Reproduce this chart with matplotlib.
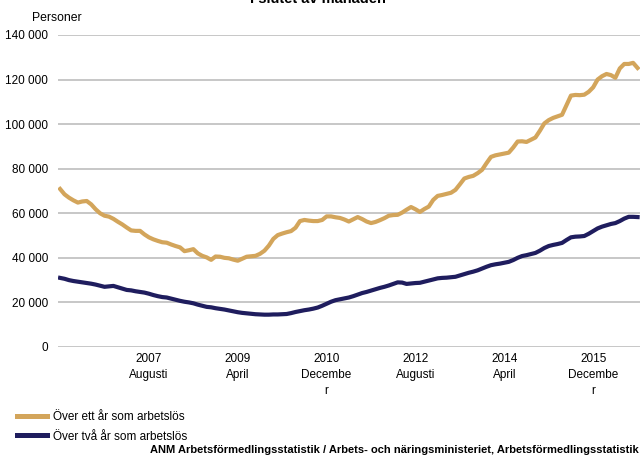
import matplotlib
matplotlib.use("Agg")
import matplotlib.pyplot as plt

plt.rcParams["font.family"] = ["Liberation Sans", "DejaVu Sans"]

# monthly values (thousands of persons), Dec 2005 .. Oct 2016
over_ett_ar = [
    70.9, 68.5, 67.0, 65.8, 64.8, 65.3, 65.5, 64.0, 61.8, 60.0,
    58.9, 58.5, 57.5, 56.2, 55.0, 53.6, 52.3, 52.1, 52.1, 50.5,
    49.2, 48.3, 47.6, 47.0, 46.8, 46.0, 45.3, 44.7, 43.0, 43.4,
    43.9, 42.0, 40.9, 40.2, 39.1, 40.6, 40.5, 40.0, 39.8, 39.2,
    38.7, 39.6, 40.5, 40.7, 40.9, 41.8, 43.2, 45.5, 48.5, 50.2,
    50.9, 51.5, 52.0, 53.5, 56.5, 57.0, 56.7, 56.5, 56.5, 57.0,
    58.6, 58.6, 58.2, 57.9, 57.2, 56.3, 57.3, 58.3, 57.4, 56.3,
    55.6, 56.1, 56.9, 57.8, 58.9, 59.2, 59.3, 60.3, 61.6, 62.8,
    61.8, 60.6, 61.9, 63.0, 66.0, 67.8, 68.2, 68.7, 69.2, 70.5,
    73.0, 75.6, 76.3, 76.8, 78.0, 79.5, 82.5, 85.3, 86.0, 86.4,
    86.8, 87.2, 89.5, 92.2, 92.3, 92.0, 93.0, 94.0, 97.0, 100.3,
    101.8, 102.8, 103.5, 104.2, 108.5, 112.8, 113.1, 113.0, 113.2, 114.5,
    116.5, 120.0, 121.5, 122.5, 122.0, 120.8, 125.0, 127.0, 127.0, 127.5,
    125.2,
]
over_tva_ar = [
    31.0, 30.6, 30.0, 29.6, 29.3, 29.0, 28.7, 28.4, 28.0, 27.5,
    27.0, 27.2, 27.4, 26.8, 26.2, 25.6, 25.4, 25.0, 24.7, 24.4,
    23.9, 23.3, 22.8, 22.4, 22.2, 21.7, 21.2, 20.7, 20.3, 20.0,
    19.6, 19.0, 18.5, 18.0, 17.8, 17.4, 17.1, 16.8, 16.4, 16.0,
    15.6, 15.3, 15.1, 14.9, 14.7, 14.6, 14.5, 14.5, 14.6, 14.6,
    14.7, 14.8, 15.2, 15.7, 16.1, 16.5, 16.8, 17.2, 17.7, 18.5,
    19.4, 20.3, 21.0, 21.4, 21.8, 22.2, 22.8, 23.5, 24.2, 24.7,
    25.3, 25.9, 26.5, 27.0, 27.6, 28.3, 29.0, 28.9, 28.3, 28.5,
    28.7, 28.8, 29.3, 29.8, 30.3, 30.8, 31.0, 31.1, 31.3, 31.5,
    32.1, 32.7, 33.3, 33.8, 34.4, 35.2, 36.0, 36.7, 37.1, 37.4,
    37.8, 38.2, 39.0, 40.0, 40.8, 41.2, 41.7, 42.2, 43.2, 44.4,
    45.3, 45.8, 46.2, 46.7, 48.0, 49.2, 49.5, 49.6, 49.8, 50.8,
    52.0, 53.2, 54.0, 54.6, 55.2, 55.6, 56.5, 57.6, 58.4, 58.4,
    58.3,
]

tick_pos = [20, 40, 60, 80, 100, 120]
tick_labels = ["2007\nAugusti", "2009\nApril", "2010\nDecembe\nr",
               "2012\nAugusti", "2014\nApril", "2015\nDecembe\nr"]
y_ticks = [0, 20000, 40000, 60000, 80000, 100000, 120000, 140000]

gold = "#D3A55B"
navy = "#1F1D5E"

fig = plt.figure(figsize=(6.43, 4.58), dpi=100)
ax = fig.add_axes([0.090, 0.2424, 0.905, 0.6812])

x = list(range(len(over_ett_ar)))
ax.plot(x, [v * 1000 for v in over_ett_ar], color=gold, lw=3.0,
        solid_joinstyle="round", label="Över ett år som arbetslös")
ax.plot(x, [v * 1000 for v in over_tva_ar], color=navy, lw=3.0,
        solid_joinstyle="round", label="Över två år som arbetslös")

ax.set_xlim(-0.5, len(x) - 0.5)
ax.set_ylim(0, 140000)
ax.set_yticks(y_ticks)
ax.set_yticklabels([f"{v:,}".replace(",", " ") for v in y_ticks])
ax.set_xticks(tick_pos)
ax.set_xticklabels(tick_labels, linespacing=1.45)
ax.tick_params(axis="both", length=0, labelsize=8.5, colors="black")
ax.tick_params(axis="y", pad=7)
ax.tick_params(axis="x", pad=4)
ax.grid(axis="y", color="#BEBEBE", lw=1.2)
ax.set_axisbelow(True)
for s in ax.spines.values():
    s.set_visible(False)

fig.text(0.049, 0.961, "Personer", fontsize=8.8, va="center", ha="left")
fig.text(0.495, 1 - 3 / 458, "I slutet av månaden", fontsize=10.5,
         fontweight="bold", ha="center", va="baseline")

leg = fig.legend(loc="upper left", bbox_to_anchor=(0.026, 0.102), frameon=False,
                 fontsize=8.5, handlelength=2.6, handletextpad=0.45,
                 labelspacing=0.62, borderaxespad=0, borderpad=0)
for h in leg.get_lines():
    h.set_linewidth(3.6)

fig.text(0.993, 0.012, "ANM Arbetsförmedlingsstatistik / Arbets- och näringsministeriet, "
         "Arbetsförmedlingsstatistik", fontsize=8, fontweight="bold",
         ha="right", va="baseline")

fig.savefig("out.png", dpi=100)
